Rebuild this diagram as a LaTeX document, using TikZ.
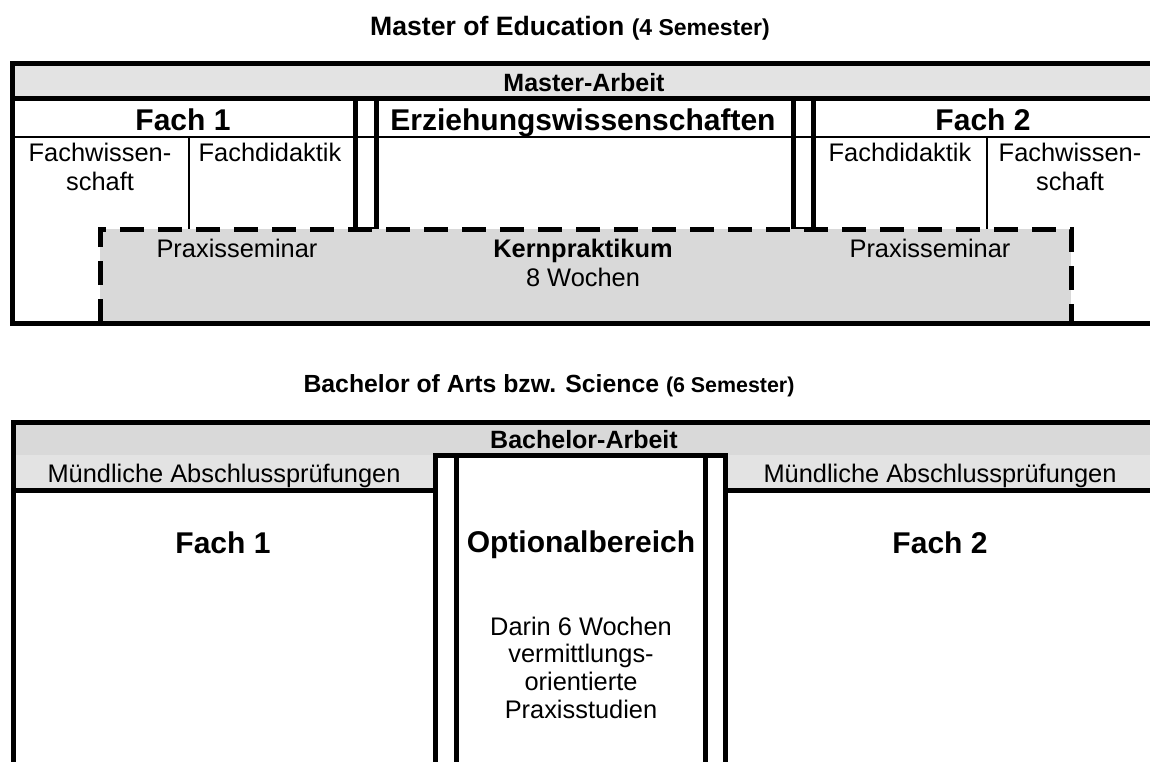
\documentclass[tikz,border=0pt]{standalone}
\usepackage{fontspec}
\setmainfont{Liberation Sans}
\usepackage{xcolor}

\definecolor{bandgray}{gray}{0.89}
\definecolor{fieldgray}{gray}{0.85}

\tikzset{
  thickline/.style={line width=2.5pt},
  thinline/.style={line width=0.6pt},
  dashline/.style={line width=2.5pt, dash pattern=on 12pt off 7pt},
  txt/.style={font=\fontsize{12.7}{14.2}\selectfont, align=center, inner sep=0pt, anchor=base},
  head/.style={font=\fontsize{15}{17}\selectfont\bfseries, inner sep=0pt, anchor=base},
  band/.style={font=\fontsize{12.5}{14}\selectfont\bfseries, inner sep=0pt, anchor=base},
  title/.style={font=\fontsize{13.3}{15}\selectfont\bfseries, inner sep=0pt, anchor=base}
}

\begin{document}
\begin{tikzpicture}[x=0.5pt,y=-0.5pt]
	\useasboundingbox (0,0) rectangle (1150,761);

	% Master
	\node[title] (mtitle) at (570,35) {Master of Education {\fontsize{11.5}{13}\selectfont(4 Semester)}};
	\fill[bandgray] (12,63) rectangle (1160,98);
	\fill[fieldgray] (100,229) rectangle (1071,323);
	\draw[thinline] (12,137) -- (1160,137);
	\draw[thinline] (189,137) -- (189,229);
	\draw[thinline] (987,137) -- (987,229);
	\draw[thinline] (355,228) -- (376,228);
	\draw[thinline] (793,228) -- (813,228);
	\draw[thickline] (355,98) -- (355,229) (376,98) -- (376,229);
	\draw[thickline] (793,98) -- (793,229) (813,98) -- (813,229);
	\draw[dashline] (100,323) -- (100,229) -- (1071,229) -- (1071,323);
	\draw[thickline] (12,63) rectangle (1160,323);
	\draw[thickline] (12,98) -- (1160,98);

	\node[band] (marbeit) at (584,91) {Master-Arbeit};
	\node[head] (mfach1) at (183,130) {Fach 1};
	\node[head] (mezw) at (583,130) {Erziehungswissenschaften};
	\node[head] (mfach2) at (983,130) {Fach 2};
	\node[txt] (mfw1) at (100,190) {Fachwissen-\\schaft};
	\node[txt] (mfd1) at (270,161) {Fachdidaktik};
	\node[txt] (mfd2) at (900,161) {Fachdidaktik};
	\node[txt] (mfw2) at (1070,190) {Fachwissen-\\schaft};
	\node[txt] (mps1) at (237,257) {Praxisseminar};
	\node[txt] (mkern) at (583,286) {\textbf{Kernpraktikum}\\8 Wochen};
	\node[txt] (mps2) at (930,257) {Praxisseminar};

	% Bachelor
	\node[title, font=\fontsize{12.4}{14}\selectfont\bfseries] (btitle) at (549,392) {Bachelor of Arts bzw. Science {\fontsize{10.7}{12}\selectfont(6 Semester)}};
	\fill[fieldgray] (13,422) rectangle (1160,455);
	\fill[bandgray] (13,455) rectangle (435,490);
	\fill[bandgray] (725,455) rectangle (1160,490);
	\draw[thickline] (13,780) -- (13,422) -- (1160,422);
	\draw[thickline] (13,490) -- (435,490) (725,490) -- (1160,490);
	\draw[thickline] (435,780) -- (435,455) -- (725,455) -- (725,780);
	\draw[thickline] (456,780) -- (456,458) (705,780) -- (705,458);

	\node[band] (barbeit) at (584,448) {Bachelor-Arbeit};
	\node[txt] (bmp1) at (224,482) {Mündliche Abschlussprüfungen};
	\node[txt] (bmp2) at (940,482) {Mündliche Abschlussprüfungen};
	\node[head] (bfach1) at (223,553) {Fach 1};
	\node[head] (bopt) at (581,552) {Optionalbereich};
	\node[head] (bfach2) at (940,553) {Fach 2};
	\node[txt, font=\fontsize{12.7}{13.8}\selectfont] (bdarin) at (581,718) {Darin 6 Wochen\\vermittlungs-\\orientierte\\Praxisstudien};
\end{tikzpicture}
\end{document}
